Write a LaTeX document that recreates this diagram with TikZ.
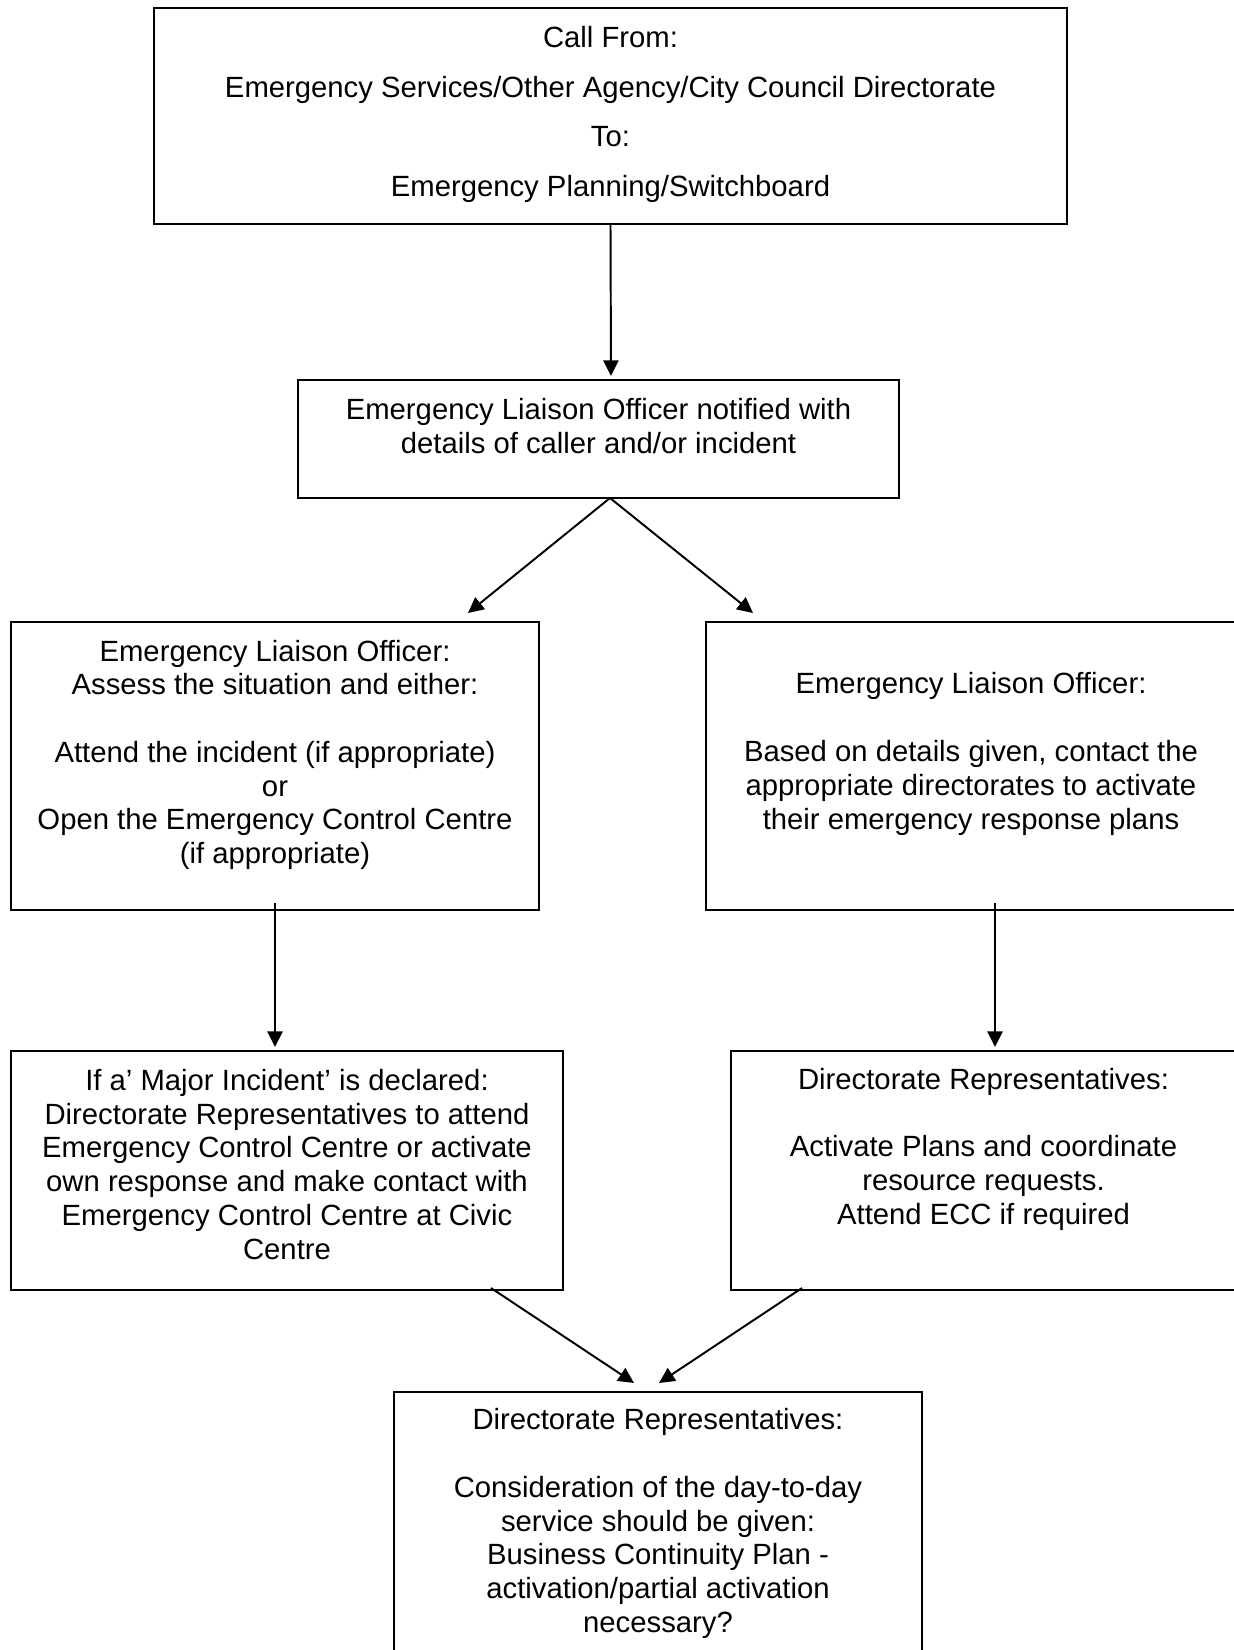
\documentclass[tikz,border=0pt]{standalone}
\usepackage{fontspec}
\setmainfont{Liberation Sans}
\usetikzlibrary{positioning, fit, arrows.meta}
\tikzset{
every picture/.style={
line width=0.9pt
},
box/.style={draw, inner sep=0pt, fit={#1}},
txt/.style={inner sep=0pt, align=center, font=\fontsize{12pt}{13.85pt}\selectfont},
arr/.style={-{Triangle[length=6.4pt, width=6.2pt]}, line width=0.8pt}
}

\begin{document}
\begin{tikzpicture}[x=0.41pt, y=-0.41pt]
  \useasboundingbox (0,0) rectangle (1233,1650);

  % boxes
  \node [box={(154,8) (1067,224)}] (b1) {};
  \node [box={(298,380) (899,498)}] (b2) {};
  \node [box={(11,622) (539,910)}] (b3) {};
  \node [box={(706,622) (1236,910)}] (b4) {};
  \node [box={(11,1051) (563,1290)}] (b5) {};
  \node [box={(731,1051) (1236,1290)}] (b6) {};
  \node [box={(394,1392) (922,1662)}] (b7) {};

  % texts
  \node [txt, font=\fontsize{12pt}{20.3pt}\selectfont, below=7.5pt of b1.north] (t1)
    {Call From:\\Emergency Services/Other Agency/City Council Directorate\\To:\\Emergency Planning/Switchboard};
  \node [txt, below=7.4pt of b2.north] (t2)
    {Emergency Liaison Officer notified with\\details of caller and/or incident};
  \node [txt, below=7.3pt of b3.north] (t3)
    {Emergency Liaison Officer:\\Assess the situation and either:\\[13.85pt]Attend the incident (if appropriate)\\or\\Open the Emergency Control Centre\\(if appropriate)};
  \node [txt, below=20.8pt of b4.north] (t4)
    {Emergency Liaison Officer:\\[13.85pt]Based on details given, contact the\\appropriate directorates to activate\\their emergency response plans};
  \node [txt, below=7.4pt of b5.north] (t5)
    {If a’ Major Incident’ is declared:\\Directorate Representatives to attend\\Emergency Control Centre or activate\\own response and make contact with\\Emergency Control Centre at Civic\\Centre};
  \node [txt, below=7pt of b6.north] (t6)
    {Directorate Representatives:\\[13.85pt]Activate Plans and coordinate\\resource requests.\\Attend ECC if required};
  \node [txt, below=6.8pt of b7.north] (t7)
    {Directorate Representatives:\\[13.85pt]Consideration of the day-to-day\\service should be given:\\Business Continuity Plan -\\activation/partial activation\\necessary?};

  % arrow ends
  \coordinate (e2) at (611,376);
  \coordinate (fork) at (610,498);
  \coordinate (e3) at (468,613);
  \coordinate (e4) at (753,613);
  \coordinate (s5) at (275,903);
  \coordinate (e5) at (275,1047);
  \coordinate (s6) at (995,903);
  \coordinate (e6) at (995,1047);
  \coordinate (s7a) at (491,1288);
  \coordinate (s7b) at (802,1288);
  \coordinate (e7a) at (634,1383);
  \coordinate (e7b) at (659,1383);

  \foreach \a/\b in {b1.south/e2, fork/e3, fork/e4, s5/e5, s6/e6, s7a/e7a, s7b/e7b} {
    \draw [arr] (\a) -- (\b);
  }
\end{tikzpicture}
\end{document}
